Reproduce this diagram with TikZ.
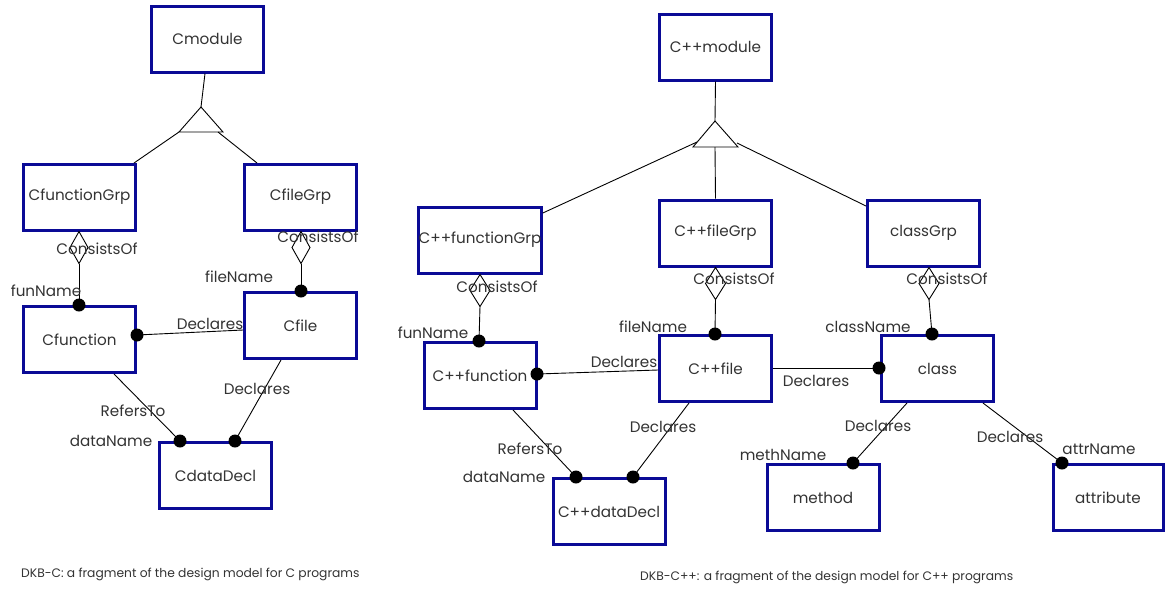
\documentclass[tikz,border=0pt]{standalone}
\usepackage{fontspec}
\setmainfont{Poppins}
\begin{document}
\begin{tikzpicture}[x=1pt,y=-1pt,
  ent/.style={draw=boxblue,line width=3pt,minimum width=112pt,minimum height=66pt,inner sep=0pt,text=txt,font=\fontsize{15.2}{17}\selectfont},
  lab/.style={text=txt,inner sep=0pt,font=\fontsize{15.2}{17}\selectfont},
  captxt/.style={text=txt,inner sep=0pt,font=\fontsize{12.3}{15}\selectfont,anchor=west},
  conn/.style={draw=black,line width=0.9pt},
  dotm/.style={fill=black},
  agg/.style={draw=black,line width=0.9pt,fill=white}]
\definecolor{boxblue}{HTML}{0A0A96}
\definecolor{txt}{HTML}{333333}
\useasboundingbox (0,0) rectangle (1165,590);
% ---------- Left diagram ----------
\node[ent] (cmod) at (207.5,39) {Cmodule};
\node[ent] (cfgrp) at (79.5,197) {CfunctionGrp};
\node[ent] (cfilegrp) at (300.5,197) {CfileGrp};
\node[ent] (cfun) at (79.5,339.5) {Cfunction};
\node[ent] (cfile) at (300.5,325.5) {Cfile};
\node[ent] (cdata) at (215.5,475.5) {CdataDecl};
% generalisation triangle
\coordinate (t1a) at (201,107);
\coordinate (t1l) at (179,132);
\coordinate (t1r) at (223,132);
\draw[conn] (cmod.south -| 205,0) -- (t1a);
\draw[conn] (t1a) -- (t1l) -- (t1r) -- cycle;
\draw[conn] (t1l) -- (134,163) coordinate (cfgrpin);
\draw[conn] (218,132) -- (257,163) coordinate (cfilegrpin);
% aggregation
\coordinate (d1) at (79,305);
\draw[agg] (cfgrp.south -| 79,0) -- ++(9,16) -- ++(-9,16) coordinate (d1b) -- ++(-9,-16) -- cycle;
\draw[conn] (d1b) -- (d1);
\coordinate (d2) at (301,291);
\draw[agg] (cfilegrp.south -| 301,0) -- ++(9,16) -- ++(-9,16) coordinate (d2b) -- ++(-9,-16) -- cycle;
\draw[conn] (d2b) -- (d2);
% relations
\coordinate (d3) at (137,335);
\draw[conn] (d3) -- (cfile.west |- 0,330);
\coordinate (d4) at (180,441);
\draw[conn] (cfun.south -| 114,0) -- (d4);
\coordinate (d5) at (235,441);
\draw[conn] (cfile.south -| 281,0) -- (d5);
\foreach \p in {d1,d2,d3,d4,d5} \fill[dotm] (\p) circle (6.5);
% labels
\node[lab] at (97,249) {ConsistsOf};
\node[lab] at (318,237) {ConsistsOf};
\node[lab] at (46,291) {funName};
\node[lab] at (239,277) {fileName};
\node[lab] at (210,324) {Declares};
\node[lab] at (133,411) {RefersTo};
\node[lab] at (111,441) {dataName};
\node[lab] at (257,389) {Declares};
\node[captxt] at (21,574) {DKB-C: a fragment of the design model for C programs};
% ---------- Right diagram ----------
\node[ent] (cppmod) at (715.5,47) {C++module};
\node[ent] (cppfgrp) at (480,240) {C++functionGrp};
\node[ent] (cppfilegrp) at (715.5,233) {C++fileGrp};
\node[ent] (classgrp) at (923.5,233) {classGrp};
\node[ent] (cppfun) at (480,375.5) {C++function};
\node[ent] (cppfile) at (715.5,368.5) {C++file};
\node[ent] (class) at (937.5,368.5) {class};
\node[ent] (cppdata) at (609,511.5) {C++dataDecl};
\node[ent] (method) at (823,497.5) {method};
\node[ent,minimum width=110pt] (attr) at (1108,497.5) {attribute};
\coordinate (t2a) at (715,121);
\coordinate (t2l) at (693,147);
\coordinate (t2r) at (738,147);
\draw[conn] (cppmod.south) -- (t2a);
\draw[conn] (t2a) -- (t2l) -- (t2r) -- cycle;
\draw[conn] (697,142) -- (cppfgrp.east |- 0,213);
\draw[conn] (715,147) -- (cppfilegrp.north);
\draw[conn] (737,143) -- (classgrp.west |- 0,206);
% aggregation
\coordinate (e1) at (479,341);
\draw[agg] (cppfgrp.south) -- ++(10,16) -- ++(-10,16) coordinate (e1b) -- ++(-10,-16) -- cycle;
\draw[conn] (e1b) -- (e1);
\coordinate (e2) at (715,334);
\draw[agg] (cppfilegrp.south) -- ++(10,16) -- ++(-10,16) coordinate (e2b) -- ++(-10,-16) -- cycle;
\draw[conn] (e2b) -- (e2);
\coordinate (e3) at (932,334);
\draw[agg] (classgrp.south -| 929,0) -- ++(10,16) -- ++(-10,16) coordinate (e3b) -- ++(-10,-16) -- cycle;
\draw[conn] (e3b) -- (e3);
% relations
\coordinate (e4) at (537,374);
\draw[conn] (e4) -- (cppfile.west |- 0,370);
\coordinate (e5) at (879,368);
\draw[conn] (cppfile.east |- 0,368) -- (e5);
\coordinate (e6) at (576,477);
\draw[conn] (cppfun.south -| 513,0) -- (e6);
\coordinate (e7) at (633,477);
\draw[conn] (cppfile.south -| 689,0) -- (e7);
\coordinate (e8) at (853,463);
\draw[conn] (class.south -| 907,0) -- (e8);
\coordinate (e9) at (1062,463);
\draw[conn] (class.south -| 983,0) -- (e9);
\foreach \p in {e1,e2,e3,e4,e5,e6,e7,e8,e9} \fill[dotm] (\p) circle (6.5);
% labels
\node[lab] at (497,287) {ConsistsOf};
\node[lab] at (734,279) {ConsistsOf};
\node[lab] at (947,279) {ConsistsOf};
\node[lab] at (433,333) {funName};
\node[lab] at (653,327) {fileName};
\node[lab] at (868,327) {className};
\node[lab] at (624,362) {Declares};
\node[lab] at (816,381) {Declares};
\node[lab] at (530,449) {RefersTo};
\node[lab] at (504,477) {dataName};
\node[lab] at (663,427) {Declares};
\node[lab] at (783,455) {methName};
\node[lab] at (878,426) {Declares};
\node[lab] at (1099,449) {attrName};
\node[lab] at (1010,437) {Declares};
\node[captxt] at (640,577) {DKB-C++: a fragment of the design model for C++ programs};
\end{tikzpicture}
\end{document}
